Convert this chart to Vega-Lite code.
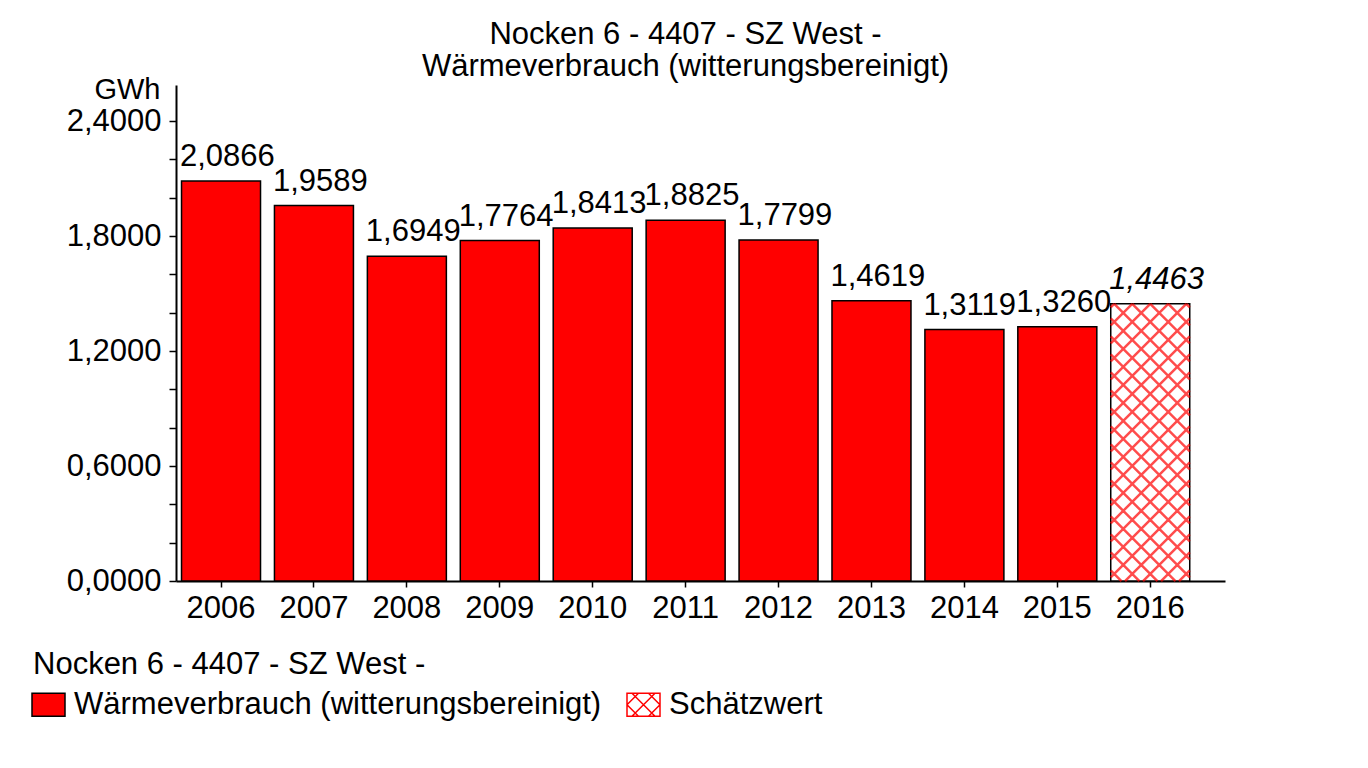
{
  "$schema": "https://vega.github.io/schema/vega-lite/v6.json",
  "width": 1049,
  "height": 496,
  "autosize": {"type": "none"},
  "padding": {"left": 176, "top": 85, "right": 143, "bottom": 187},
  "background": "white",
  "config": {
    "font": "Liberation Sans",
    "locale": {"number": {"decimal": ",", "thousands": ".", "grouping": [3], "currency": ["", " €"]}},
    "view": {"stroke": null},
    "axis": {"grid": false, "domainColor": "black", "tickColor": "black", "labelColor": "black", "titleColor": "black", "labelFont": "Liberation Sans", "titleFont": "Liberation Sans"},
    "legend": {
      "orient": "none", "legendX": -143, "legendY": 565, "direction": "horizontal",
      "titleFontSize": 31, "titleFontWeight": "normal", "titleColor": "black", "titleFont": "Liberation Sans",
      "titlePadding": 8, "titleLimit": 2000,
      "labelFontSize": 31, "labelColor": "black", "labelFont": "Liberation Sans", "labelLimit": 2000, "labelOffset": 10,
      "symbolSize": 4, "symbolStrokeWidth": 1.5, "symbolOpacity": 1, "columnPadding": 22
    }
  },
  "title": {
    "text": ["Nocken 6 - 4407 - SZ West -", "Wärmeverbrauch (witterungsbereinigt)"],
    "fontSize": 31,
    "fontWeight": "normal",
    "font": "Liberation Sans",
    "color": "black",
    "anchor": "middle",
    "frame": "group",
    "dx": -15,
    "dy": 10,
    "offset": 2,
    "lineHeight": 32
  },
  "data": {
    "values": [
      {"jahr": "2006", "wert": 2.0866, "typ": "Wärmeverbrauch (witterungsbereinigt)"},
      {"jahr": "2007", "wert": 1.9589, "typ": "Wärmeverbrauch (witterungsbereinigt)"},
      {"jahr": "2008", "wert": 1.6949, "typ": "Wärmeverbrauch (witterungsbereinigt)"},
      {"jahr": "2009", "wert": 1.7764, "typ": "Wärmeverbrauch (witterungsbereinigt)"},
      {"jahr": "2010", "wert": 1.8413, "typ": "Wärmeverbrauch (witterungsbereinigt)"},
      {"jahr": "2011", "wert": 1.8825, "typ": "Wärmeverbrauch (witterungsbereinigt)"},
      {"jahr": "2012", "wert": 1.7799, "typ": "Wärmeverbrauch (witterungsbereinigt)"},
      {"jahr": "2013", "wert": 1.4619, "typ": "Wärmeverbrauch (witterungsbereinigt)"},
      {"jahr": "2014", "wert": 1.3119, "typ": "Wärmeverbrauch (witterungsbereinigt)"},
      {"jahr": "2015", "wert": 1.3260, "typ": "Wärmeverbrauch (witterungsbereinigt)"},
      {"jahr": "2016", "wert": 1.4463, "typ": "Schätzwert"}
    ]
  },
  "layer": [
    {
      "mark": {"type": "bar", "size": 79, "stroke": "black", "strokeWidth": 1.5},
      "encoding": {
        "x": {
          "field": "jahr", "type": "nominal",
          "scale": {"paddingInner": 0.031, "paddingOuter": 0.16, "align": 0},
          "axis": {"title": null, "labelAngle": 0, "labelFontSize": 31, "labelPadding": 6, "tickSize": 6, "tickWidth": 1.5, "domainWidth": 2}
        },
        "y": {
          "field": "wert", "type": "quantitative",
          "scale": {"domain": [0, 2.588], "nice": false, "zero": true},
          "axis": {
            "title": "GWh", "titleAngle": 0, "titleAlign": "right", "titleBaseline": "alphabetic",
            "titleX": -16, "titleY": 13, "titleFontSize": 29, "titleFontWeight": "normal",
            "values": [0, 0.2, 0.4, 0.6, 0.8, 1.0, 1.2, 1.4, 1.6, 1.8, 2.0, 2.2, 2.4],
            "format": ".4f",
            "labelExpr": "round(datum.value*5) % 3 == 0 ? datum.label : ''",
            "labelFontSize": 31, "labelPadding": 8, "tickSize": 7, "tickWidth": 1.5, "domainWidth": 2,
            "encode": {"ticks": {"update": {"x": {"signal": "round(datum.value*5) % 3 == 0 ? 7 : 0"}}}}
          }
        },
        "fill": {
          "field": "typ", "type": "nominal",
          "title": "Nocken 6 - 4407 - SZ West -",
          "scale": {"domain": ["Wärmeverbrauch (witterungsbereinigt)", "Schätzwert"], "range": ["#ff0000", "#ffffff"]}
        }
      }
    },
    {
      "transform": [{"filter": "datum.typ == 'Schätzwert'"}],
      "mark": {
        "type": "point", "size": 4, "filled": false, "opacity": 1, "stroke": "#ff0000", "strokeWidth": 2.5, "strokeOpacity": 0.7,
        "shape": "M36,0L39.5,3.5M18,0L39.5,21.5M0,0L39.5,39.5M-18,0L39.5,57.5M-36,0L39.5,75.5M-39.5,14.5L39.5,93.5M-39.5,32.5L39.5,111.5M-39.5,50.5L39.5,129.5M-39.5,68.5L39.5,147.5M-39.5,86.5L39.5,165.5M-39.5,104.5L39.5,183.5M-39.5,122.5L39.5,201.5M-39.5,140.5L39.5,219.5M-39.5,158.5L39.5,237.5M-39.5,176.5L39.5,255.5M-39.5,194.5L39.5,273.5M-39.5,212.5L25.2,277.2M-39.5,230.5L7.2,277.2M-39.5,248.5L-10.8,277.2M-39.5,266.5L-28.8,277.2M-39.5,3.5L-36,0M-39.5,21.5L-18,0M-39.5,39.5L0,0M-39.5,57.5L18,0M-39.5,75.5L36,0M-39.5,93.5L39.5,14.5M-39.5,111.5L39.5,32.5M-39.5,129.5L39.5,50.5M-39.5,147.5L39.5,68.5M-39.5,165.5L39.5,86.5M-39.5,183.5L39.5,104.5M-39.5,201.5L39.5,122.5M-39.5,219.5L39.5,140.5M-39.5,237.5L39.5,158.5M-39.5,255.5L39.5,176.5M-39.5,273.5L39.5,194.5M-25.2,277.2L39.5,212.5M-7.2,277.2L39.5,230.5M10.8,277.2L39.5,248.5M28.8,277.2L39.5,266.5"
      },
      "encoding": {
        "x": {"field": "jahr", "type": "nominal"},
        "y": {"field": "wert", "type": "quantitative"}
      }
    },
    {
      "mark": {
        "type": "text", "align": "left", "baseline": "alphabetic", "dx": 4, "dy": -15,
        "fontSize": 31, "font": "Liberation Sans", "color": "black",
        "fontStyle": {"expr": "datum.typ == 'Schätzwert' ? 'italic' : 'normal'"}
      },
      "encoding": {
        "x": {"field": "jahr", "type": "nominal", "bandPosition": 0},
        "y": {"field": "wert", "type": "quantitative"},
        "text": {"field": "wert", "type": "quantitative", "format": ".4f"}
      }
    },
    {
      "mark": {"type": "point", "size": 0, "filled": true, "opacity": 1, "strokeWidth": 1.5},
      "encoding": {
        "x": {"field": "jahr", "type": "nominal"},
        "y": {"field": "wert", "type": "quantitative"},
        "fill": {
          "field": "typ", "type": "nominal",
          "title": "Nocken 6 - 4407 - SZ West -",
          "scale": {"domain": ["Wärmeverbrauch (witterungsbereinigt)", "Schätzwert"], "range": ["#ff0000", "#ffffff"]}
        },
        "stroke": {
          "field": "typ", "type": "nominal",
          "title": "Nocken 6 - 4407 - SZ West -",
          "scale": {"domain": ["Wärmeverbrauch (witterungsbereinigt)", "Schätzwert"], "range": ["#000000", "#ff0000"]}
        },
        "shape": {
          "field": "typ", "type": "nominal",
          "title": "Nocken 6 - 4407 - SZ West -",
          "scale": {"domain": ["Wärmeverbrauch (witterungsbereinigt)", "Schätzwert"], "range": [
            "M-16.5,-11.5H16.5V11.5H-16.5Z",
            "M-16.5,-11.5H16.5V11.5H-16.5ZM-11.5,-11.5L11.5,11.5M5,-11.5L16.5,0M-16.5,0L-5,11.5M-11.5,11.5L11.5,-11.5M5,11.5L16.5,0M-16.5,0L-5,-11.5"
          ]}
        }
      }
    }
  ]
}
